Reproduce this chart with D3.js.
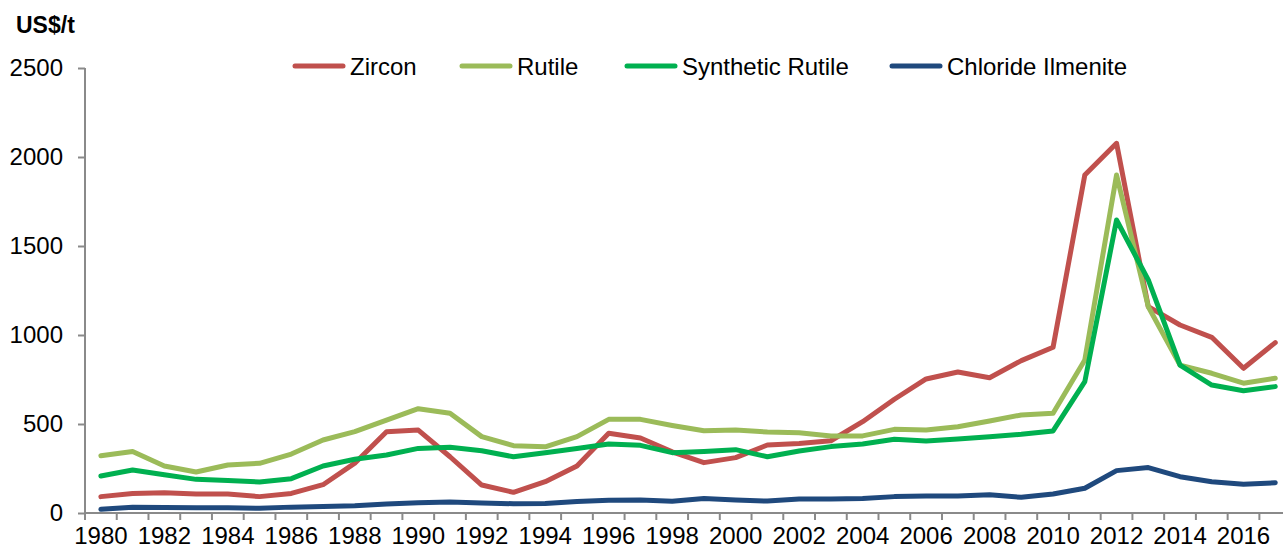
<!DOCTYPE html>
<html>
<head>
<meta charset="utf-8">
<script src="https://cdn.jsdelivr.net/npm/d3@7/dist/d3.min.js"></script>
<style>
  html, body { margin: 0; padding: 0; background: #fff; }
  svg { display: block; font-family: "Liberation Sans", Arial, sans-serif; }
</style>
</head>
<body>
<svg id="chart" width="1283" height="549"></svg>
<script>
// ---- Data ----
const years = d3.range(1980, 2018);
const seriesNames = ["Zircon", "Rutile", "Synthetic Rutile", "Chloride Ilmenite"];
const zircon = [92,110,114,107,107,92,110,159,280,457,466,316,157,116,176,264,448,421,344,283,311,382,391,406,513,639,753,792,760,856,931,1899,2077,1159,1056,987,813,957];
const rutile = [322,345,264,230,270,279,331,410,457,522,586,560,429,378,372,429,526,526,492,462,466,455,451,433,433,470,466,485,517,551,560,860,1899,1159,831,785,729,757];
const syntheticRutile = [208,242,215,189,182,174,193,264,302,326,363,369,350,316,339,362,388,380,339,346,356,316,348,373,388,414,404,416,429,442,461,738,1646,1309,831,719,687,710];
const chlorideIlmenite = [21,32,31,30,30,26,33,36,41,51,58,62,56,52,53,64,71,73,66,81,73,67,78,79,82,92,96,96,103,88,107,139,238,255,204,176,161,170];
const yTicks = [0, 500, 1000, 1500, 2000, 2500];
const xTickLabels = years.filter(y => y % 2 === 0);
const colors = ["#C0504D", "#9BBB59", "#00B050", "#1F497D"];
const unitLabel = "US$/t";

// ---- Layout ----
const plotLeft = 85, plotTop = 68, plotBottom = 513;
const bandW = 31.74;
const axisColor = "#8a8a8a";
const fontSize = 24;

const svg = d3.select("#chart");

const x = d3.scaleBand().domain(years).range([plotLeft, plotLeft + bandW * years.length]).padding(0);
const y = d3.scaleLinear().domain([0, 2500]).range([plotBottom, plotTop]);
const cx = d => x(d) + x.bandwidth() / 2;

// Y axis
const yAxis = svg.append("g").attr("transform", `translate(${plotLeft},0)`)
  .call(d3.axisLeft(y).tickValues(yTicks).tickSize(7).tickPadding(15).tickFormat(d3.format("d")));
yAxis.select(".domain").attr("stroke", axisColor).attr("stroke-width", 2).attr("d", `M0,${plotTop}V${plotBottom}`);
yAxis.selectAll(".tick line").attr("stroke", axisColor).attr("stroke-width", 2);
yAxis.selectAll(".tick text").attr("font-size", fontSize).attr("fill", "#000")
  .attr("font-family", "Liberation Sans, Arial, sans-serif");

// X axis labels
const xAxis = svg.append("g").attr("transform", `translate(0,${plotBottom})`)
  .call(d3.axisBottom(x).tickValues(xTickLabels).tickSize(0).tickPadding(13.5));
xAxis.select(".domain").remove();
xAxis.selectAll(".tick line").remove();
xAxis.selectAll(".tick text").attr("font-size", fontSize).attr("fill", "#000")
  .attr("font-family", "Liberation Sans, Arial, sans-serif");

// X axis line and boundary ticks
const bounds = years.map(d => x(d)).concat([x.range()[1]]);
svg.append("line").attr("x1", plotLeft).attr("x2", x.range()[1]).attr("y1", plotBottom).attr("y2", plotBottom)
  .attr("stroke", axisColor).attr("stroke-width", 2);
svg.append("g").selectAll("line").data(bounds).join("line")
  .attr("x1", d => d).attr("x2", d => d).attr("y1", plotBottom).attr("y2", plotBottom + 7)
  .attr("stroke", axisColor).attr("stroke-width", 2);

// Lines
const allSeries = [zircon, rutile, syntheticRutile, chlorideIlmenite];
const line = d3.line().x((d, i) => cx(years[i])).y(d => y(d));
svg.append("g").selectAll("path").data(allSeries).join("path")
  .attr("d", d => line(d))
  .attr("fill", "none")
  .attr("stroke", (d, i) => colors[i])
  .attr("stroke-width", 5)
  .attr("stroke-linejoin", "round")
  .attr("stroke-linecap", "round");

// Unit label
svg.append("text").attr("x", 16).attr("y", 33).text(unitLabel)
  .attr("font-size", 23).attr("font-weight", "bold").attr("fill", "#000");

// Legend
const legendX = [293, 460, 625, 890];
const legendY = 66;
const lg = svg.append("g").selectAll("g").data(seriesNames).join("g")
  .attr("transform", (d, i) => `translate(${legendX[i]},${legendY})`);
lg.append("line").attr("x1", 2).attr("x2", 50).attr("y1", 0).attr("y2", 0)
  .attr("stroke", (d, i) => colors[i]).attr("stroke-width", 5).attr("stroke-linecap", "round");
lg.append("text").attr("x", 57).attr("y", 9).text(d => d)
  .attr("font-size", fontSize).attr("fill", "#000");
</script>
</body>
</html>
